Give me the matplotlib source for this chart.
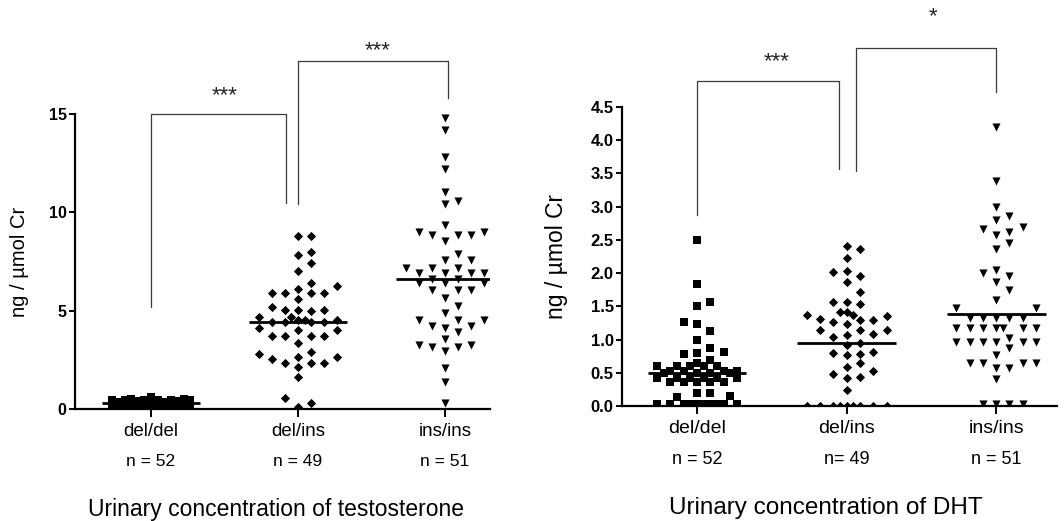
import numpy as np
import matplotlib
matplotlib.use('Agg')
import matplotlib.pyplot as plt

plt.rcParams['font.family'] = ['Liberation Sans', 'DejaVu Sans']

genotypes = ['del/del', 'del/ins', 'ins/ins']
markers = ['s', 'D', 'v']
msizes = [33, 22, 34]

# urinary testosterone, ng / umol Cr
testo_deldel = [0.62, 0.5, 0.5, 0.48, 0.48, 0.47, 0.46, 0.45, 0.45,
                0.4, 0.4, 0.38, 0.38, 0.37, 0.36, 0.35, 0.35, 0.34, 0.33,
                0.32, 0.31, 0.3, 0.3, 0.3, 0.29, 0.28, 0.28, 0.27, 0.26,
                0.25, 0.25, 0.24, 0.23, 0.22, 0.22, 0.21, 0.2, 0.2, 0.19,
                0.18, 0.18, 0.17, 0.16, 0.15, 0.15, 0.14, 0.13, 0.12, 0.12, 0.11, 0.1, 0.1]
testo_delins = [8.8, 8.8, 8.0, 7.85, 7.45, 7.0, 6.4, 6.25, 6.1, 5.9, 5.9, 5.9, 5.9,
                5.6, 5.2, 5.05, 5.05, 5.05, 5.0, 4.7, 4.7, 4.55, 4.55, 4.55,
                4.4, 4.4, 4.4, 4.4, 4.1, 4.0, 4.0, 3.7, 3.7, 3.7, 3.7, 3.35,
                2.9, 2.8, 2.65, 2.65, 2.55, 2.35, 2.35, 2.35, 2.15, 1.65, 0.55, 0.32, 0.12]
testo_insins = [14.8, 14.2, 12.8, 12.2, 11.05, 10.6, 10.45, 9.35, 9.0, 9.0, 8.85, 8.85, 8.85,
                8.55, 7.9, 7.6, 7.6, 7.15, 7.15, 7.15, 6.9, 6.9, 6.9, 6.9, 6.6, 6.6,
                6.4, 6.4, 6.4, 6.05, 6.05, 6.05, 5.65, 5.25, 4.9, 4.55, 4.55, 4.55,
                4.2, 4.2, 4.1, 3.9, 3.55, 3.25, 3.25, 3.15, 3.15, 2.95, 2.1, 1.35, 0.3]
testo_medians = [0.3, 4.4, 6.6]
testo_n = ['n = 52', 'n = 49', 'n = 51']

# urinary DHT, ng / umol Cr
dht_deldel = [2.5, 1.83, 1.57, 1.5, 1.27, 1.23, 1.13, 1.0, 0.87, 0.81, 0.8, 0.78,
              0.69, 0.64, 0.6, 0.6, 0.6, 0.6, 0.6, 0.52, 0.52, 0.52, 0.52,
              0.5, 0.5, 0.5, 0.5, 0.42, 0.42, 0.42, 0.42, 0.42, 0.42,
              0.36, 0.36, 0.36, 0.36, 0.36, 0.2, 0.19, 0.15, 0.13,
              0.03, 0.03, 0.03, 0.03, 0.03, 0.03, 0.03, 0.03, 0.03, 0.03]
dht_delins = [2.41, 2.37, 2.23, 2.03, 2.01, 1.96, 1.87, 1.71, 1.57, 1.56, 1.54,
              1.41, 1.41, 1.37, 1.37, 1.36, 1.31, 1.3, 1.29, 1.27, 1.23,
              1.14, 1.14, 1.14, 1.09, 1.07, 1.04, 0.95, 0.92, 0.81, 0.8, 0.79, 0.77,
              0.64, 0.59, 0.52, 0.48, 0.43, 0.42, 0.24,
              0.0, 0.0, 0.0, 0.0, 0.0, 0.0, 0.0, 0.0, 0.0]
dht_insins = [4.2, 3.39, 3.0, 2.86, 2.8, 2.7, 2.66, 2.62, 2.58, 2.46, 2.36, 2.05, 2.0,
              1.95, 1.86, 1.75, 1.6, 1.48, 1.48, 1.33, 1.33, 1.33, 1.33, 1.33,
              1.17, 1.17, 1.17, 1.17, 1.17, 1.17, 1.17, 1.02, 0.97, 0.97, 0.97, 0.97,
              0.97, 0.97, 0.87, 0.77, 0.64, 0.64, 0.64, 0.64, 0.57, 0.57, 0.4,
              0.03, 0.03, 0.03, 0.03]
dht_medians = [0.5, 0.95, 1.38]
dht_n = ['n = 52', 'n= 49', 'n = 51']

# significance brackets: x_left, x_right, y_left_end, y_top, y_right_end
testo_brackets = [(0.0, 0.92, 5.2, 15.0, 10.5), (1.0, 2.02, 10.45, 17.7, 15.8)]
testo_stars = [(0.5, 15.95, '***'), (1.545, 18.25, '***')]
dht_brackets = [(0.0, 0.95, 2.88, 4.89, 3.57), (1.064, 2.0, 3.54, 5.38, 4.73)]
dht_stars = [(0.535, 5.18, '***'), (1.58, 5.86, '*')]


def swarm(vals, h, dx, nmax=3):
    """column scatter: lowest value first, take the first free slot 0,+1,-1,+2,...
    then the half slots in between, else the least crowded one"""
    vals = np.sort(np.asarray(vals, float))
    order = [0] + [s for k in range(1, nmax + 1) for s in (k, -k)]
    order += [s for k in range(nmax) for s in (k + 0.5, -k - 0.5)]
    placed = {s: [] for s in order}
    xs = []
    for v in vals:
        best, bestgap = 0, -1.
        for s in order:
            gap = min([abs(v - p) for p in placed[s]], default=np.inf)
            if gap >= h:
                best = s
                break
            if gap > bestgap:
                best, bestgap = s, gap
        placed[best].append(v)
        xs.append(best * dx)
    return np.array(xs), vals


def panel(ax, groups, medians, nlabels, brackets, stars, h, ticks, tickfmt, fs, ylab, title, title_x):
    for i, vals in enumerate(groups):
        xs, vs = swarm(vals, h, 0.089)
        ax.scatter(i + xs, vs, marker=markers[i], s=msizes[i], c='black', linewidths=0, zorder=3)
        ax.hlines(medians[i], i - 0.33, i + 0.33, color='black', lw=2, zorder=4)
    for x0, x1, y0, yt, y1 in brackets:
        ax.plot([x0, x0, x1, x1], [y0, yt, yt, y1], color='#3a3a3a', lw=0.9, clip_on=False)
    for x, y, s in stars:
        ax.text(x, y, s, ha='center', va='center', fontsize=fs[3], color='#222222')
    for side in ['top', 'right']:
        ax.spines[side].set_visible(False)
    for side in ['left', 'bottom']:
        ax.spines[side].set_linewidth(1.6)
    ax.set_yticks(ticks)
    ax.set_yticklabels([tickfmt % t for t in ticks], fontsize=fs[0], fontweight='bold')
    ax.set_xticks(range(3))
    ax.set_xticklabels([])
    ax.tick_params(axis='y', length=4.5, width=1.4, pad=1.5)
    ax.tick_params(axis='x', length=6, width=1.4)
    tr = ax.get_xaxis_transform()
    for i in range(3):
        ax.text(i, -0.075, genotypes[i], transform=tr, ha='center', va='center', fontsize=fs[1])
        ax.text(i, -0.178, nlabels[i], transform=tr, ha='center', va='center', fontsize=fs[1] - 1)
    ax.set_ylabel(ylab, fontsize=fs[2])
    ax.text(title_x, -0.34, title, transform=ax.transAxes, ha='center', va='center', fontsize=fs[4])


fig = plt.figure(figsize=(10.64, 5.21), dpi=100)

ax1 = fig.add_axes([0.0705, 0.215, 0.39, 0.566])
ax1.set_ylim(0, 15)
ax1.set_xlim(-0.517, 2.306)
panel(ax1, [testo_deldel, testo_delins, testo_insins], testo_medians, testo_n,
      testo_brackets, testo_stars, 0.5, [0, 5, 10, 15], '%d', [11.5, 13.5, 14.5, 16, 16.5],
      'ng / \u00b5mol Cr', 'Urinary concentration of testosterone', 0.484)
ax1.yaxis.set_label_coords(-0.11, 0.5)

ax2 = fig.add_axes([0.5846, 0.2207, 0.409, 0.574])
ax2.set_ylim(0, 4.5)
ax2.set_xlim(-0.502, 2.408)
panel(ax2, [dht_deldel, dht_delins, dht_insins], dht_medians, dht_n,
      dht_brackets, dht_stars, 0.15, np.arange(0, 4.51, 0.5), '%.1f', [12, 14, 16.5, 16, 17.5],
      'ng / \u00b5mol Cr', 'Urinary concentration of DHT', 0.469)
ax2.yaxis.set_label_coords(-0.125, 0.5)

fig.savefig('out.png', dpi=100, facecolor='white')
